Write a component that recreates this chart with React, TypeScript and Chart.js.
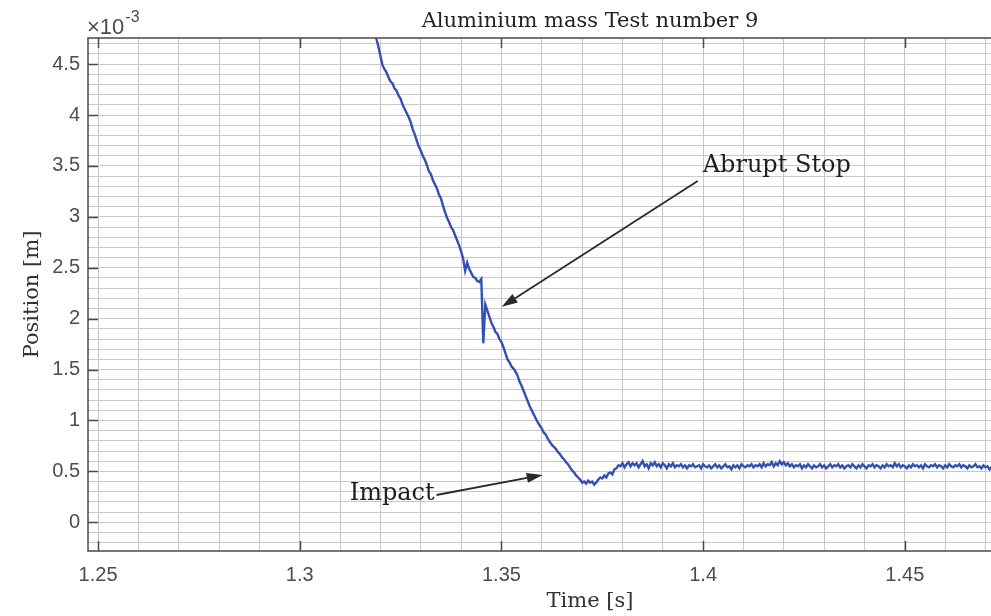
import React, { useEffect, useRef } from "react";
import { Chart, registerables } from "chart.js";

Chart.register(...registerables);

// ---- Texts ----
const chartTitle = "Aluminium mass Test number 9";
const xAxisTitle = "Time [s]";
const yAxisTitle = "Position [m]";
const yMultiplierBase = "\u00d710";
const yMultiplierExponent = "-3";

// ---- Axes ----
const xMajorTicks = [1.25, 1.3, 1.35, 1.4, 1.45];
const yMajorTicks = [0, 0.5, 1, 1.5, 2, 2.5, 3, 3.5, 4, 4.5];
const xLimits = [1.2475, 1.4964];
const yLimits = [-0.282, 4.757];
const xMinorStep = 0.01;
const yMinorStep = 0.1;

// ---- Data (position in units of 1e-3 m), sampled every samplePeriod seconds ----
const sampleStart = 1.318;
const samplePeriod = 0.0005;

const fallValues = [
  4.86, 4.8, 4.75, 4.67, 4.58, 4.49, 4.45, 4.42, 4.37, 4.33,
  4.31, 4.26, 4.24, 4.19, 4.16, 4.1, 4.06, 4.02, 3.98, 3.93,
  3.86, 3.81, 3.75, 3.69, 3.65, 3.6, 3.56, 3.51, 3.45, 3.42,
  3.36, 3.32, 3.28, 3.22, 3.18, 3.11, 3.05, 2.99, 2.95, 2.9,
  2.87, 2.82, 2.77, 2.72, 2.66, 2.59, 2.47, 2.55, 2.49, 2.45,
  2.41, 2.4, 2.37, 2.36, 2.39, 1.76, 2.14, 2.08, 2.02, 1.96,
  1.92, 1.87, 1.85, 1.8, 1.77, 1.72, 1.66, 1.6, 1.57, 1.53,
  1.51, 1.48, 1.44, 1.38, 1.34, 1.29, 1.24, 1.19, 1.14, 1.1,
  1.06, 1.02, 0.98, 0.95, 0.92, 0.88, 0.86, 0.82, 0.79, 0.76,
  0.74, 0.72, 0.69, 0.67, 0.64, 0.62, 0.59, 0.57, 0.54, 0.51,
  0.49, 0.46, 0.44, 0.42, 0.39, 0.4, 0.38, 0.41, 0.39, 0.4,
  0.37, 0.39, 0.42, 0.44, 0.43, 0.46, 0.44, 0.48, 0.49, 0.47,
  0.52,
];

const settleValues = [
  0.53, 0.56, 0.55, 0.58, 0.54, 0.57, 0.59, 0.55, 0.58, 0.56,
  0.58, 0.54, 0.57, 0.6, 0.55, 0.57, 0.53, 0.58, 0.56, 0.59,
  0.55, 0.57, 0.54, 0.58, 0.56, 0.53, 0.57, 0.55, 0.58, 0.54,
  0.56, 0.55, 0.57, 0.54, 0.56, 0.53, 0.56, 0.55, 0.57, 0.54,
  0.55, 0.56, 0.53, 0.57, 0.55, 0.54, 0.56, 0.53, 0.55, 0.57,
  0.54, 0.56, 0.53, 0.55, 0.57, 0.54, 0.55, 0.52, 0.56, 0.54,
  0.56, 0.53, 0.57, 0.55, 0.54, 0.56, 0.55, 0.57, 0.54, 0.56,
  0.55, 0.57, 0.54, 0.58, 0.55, 0.57, 0.56, 0.59, 0.55, 0.58,
  0.56, 0.6, 0.57, 0.59, 0.56, 0.58, 0.55, 0.57, 0.54, 0.56,
  0.55, 0.57, 0.53, 0.56, 0.54, 0.57, 0.55, 0.53, 0.56, 0.54,
  0.55, 0.57, 0.54, 0.56, 0.53, 0.55, 0.57, 0.54, 0.56, 0.55,
  0.57, 0.54, 0.56, 0.53, 0.55, 0.56, 0.54, 0.57, 0.55, 0.53,
  0.56, 0.54, 0.57, 0.55, 0.53, 0.56, 0.55, 0.57, 0.54, 0.56,
  0.55, 0.53, 0.56, 0.54, 0.57, 0.55, 0.56, 0.54, 0.58, 0.55,
  0.57, 0.54, 0.56, 0.55, 0.53, 0.56, 0.54, 0.57, 0.55, 0.56,
  0.54, 0.56, 0.53, 0.57, 0.55, 0.54, 0.56, 0.55, 0.57, 0.54,
  0.56, 0.55, 0.53, 0.56, 0.54, 0.57, 0.55, 0.54, 0.56, 0.55,
  0.57, 0.54, 0.56, 0.55, 0.53, 0.56, 0.54, 0.55, 0.57, 0.54,
  0.55, 0.53, 0.56, 0.54, 0.55, 0.52, 0.54, 0.56, 0.53, 0.55,
  0.54, 0.56, 0.55, 0.53, 0.57, 0.55, 0.54, 0.56, 0.55, 0.57,
  0.54, 0.56, 0.55, 0.53, 0.56, 0.54, 0.57, 0.55, 0.54, 0.56,
  0.55, 0.57, 0.54, 0.56, 0.53, 0.55, 0.56, 0.54, 0.57, 0.55,
  0.54, 0.56, 0.55, 0.57, 0.54, 0.56, 0.53, 0.55, 0.56, 0.54,
  0.56, 0.55, 0.57, 0.54, 0.55, 0.56, 0.54, 0.55,
];

// ---- Annotations (data coordinates) ----
const annotationLabels = ["Abrupt Stop", "Impact"];
const annotationAligns: CanvasTextAlign[] = ["left", "right"];
const annotationTextX = [1.3999, 1.33345];
const annotationTextY = [3.441, 0.219];
const arrowTailX = [1.39865, 1.3339];
const arrowTailY = [3.353, 0.268];
const arrowHeadX = [1.35006, 1.36023];
const arrowHeadY = [2.116, 0.465];

const serif = '"DejaVu Serif", serif';
const sans = '"Liberation Sans", Arial, sans-serif';

function isMajor(list: number[], v: number) {
  return list.some((m) => Math.abs(m - v) < 1e-7);
}

function gridTicks(limits: number[], step: number) {
  const out: { value: number }[] = [];
  const start = Math.ceil(limits[0] / step - 1e-9);
  const end = Math.floor(limits[1] / step + 1e-9);
  for (let k = start; k <= end; k++) out.push({ value: Number((k * step).toFixed(5)) });
  return out;
}

const decorPlugin = {
  id: "matlabDecor",
  afterDatasetsDraw(chart: any) {
    const { ctx, chartArea, scales } = chart;
    const { left, right, top, bottom } = chartArea;
    const xs = scales.x;
    const ys = scales.y;
    ctx.save();

    // box
    ctx.strokeStyle = "#4a4a4a";
    ctx.lineWidth = 1.5;
    ctx.strokeRect(left, top, right - left, bottom - top);

    // inward tick marks
    ctx.beginPath();
    xMajorTicks.forEach((v) => {
      const px = Math.round(xs.getPixelForValue(v)) + 0.5;
      ctx.moveTo(px, bottom);
      ctx.lineTo(px, bottom - 10);
      ctx.moveTo(px, top);
      ctx.lineTo(px, top + 10);
    });
    yMajorTicks.forEach((v) => {
      const py = Math.round(ys.getPixelForValue(v)) + 0.5;
      ctx.moveTo(left, py);
      ctx.lineTo(left + 10, py);
      ctx.moveTo(right, py);
      ctx.lineTo(right - 10, py);
    });
    ctx.stroke();

    // title
    ctx.fillStyle = "#222";
    ctx.font = `21px ${serif}`;
    ctx.textAlign = "center";
    ctx.textBaseline = "alphabetic";
    ctx.fillText(chartTitle, (left + right) / 2, 27);

    // x title
    ctx.fillStyle = "#333";
    ctx.fillText(xAxisTitle, (left + right) / 2, 607);

    // y title
    ctx.save();
    ctx.translate(38, (top + bottom) / 2);
    ctx.rotate(-Math.PI / 2);
    ctx.fillText(yAxisTitle, 0, 0);
    ctx.restore();

    // multiplier
    ctx.fillStyle = "#4d4d4d";
    ctx.textAlign = "left";
    ctx.font = `22px ${sans}`;
    ctx.fillText(yMultiplierBase, left - 1, 34);
    const w = ctx.measureText(yMultiplierBase).width;
    ctx.font = `16px ${sans}`;
    ctx.fillText(yMultiplierExponent, left + w, 22);

    // annotations
    for (let i = 0; i < annotationLabels.length; i++) {
      const tx = xs.getPixelForValue(arrowTailX[i]);
      const ty = ys.getPixelForValue(arrowTailY[i]);
      const hx = xs.getPixelForValue(arrowHeadX[i]);
      const hy = ys.getPixelForValue(arrowHeadY[i]);
      const ang = Math.atan2(hy - ty, hx - tx);
      const headLen = 16;
      const headHalf = 5;
      const bx = hx - headLen * Math.cos(ang);
      const by = hy - headLen * Math.sin(ang);
      ctx.strokeStyle = "#2a2a2a";
      ctx.fillStyle = "#2a2a2a";
      ctx.lineWidth = 1.8;
      ctx.beginPath();
      ctx.moveTo(tx, ty);
      ctx.lineTo(bx, by);
      ctx.stroke();
      ctx.beginPath();
      ctx.moveTo(hx, hy);
      ctx.lineTo(bx + headHalf * Math.sin(ang), by - headHalf * Math.cos(ang));
      ctx.lineTo(bx - headHalf * Math.sin(ang), by + headHalf * Math.cos(ang));
      ctx.closePath();
      ctx.fill();

      ctx.fillStyle = "#1e1e1e";
      ctx.font = `24px ${serif}`;
      ctx.textAlign = annotationAligns[i];
      ctx.textBaseline = "alphabetic";
      ctx.fillText(
        annotationLabels[i],
        xs.getPixelForValue(annotationTextX[i]),
        ys.getPixelForValue(annotationTextY[i])
      );
    }
    ctx.restore();
  },
};

export default function App() {
  const canvasRef = useRef<HTMLCanvasElement | null>(null);

  useEffect(() => {
    const canvas = canvasRef.current;
    if (!canvas) return;
    const fallPoints = fallValues.map((y, i) => ({
      x: sampleStart + i * samplePeriod,
      y,
    }));
    const settlePoints = settleValues.map((y, i) => ({
      x: sampleStart + (fallValues.length + i) * samplePeriod,
      y,
    }));
    const points = fallPoints.concat(settlePoints);

    const chart = new Chart(canvas, {
      type: "line",
      data: {
        datasets: [
          {
            label: "Position",
            data: points,
            borderColor: "#3450b4",
            borderWidth: 2.4,
            pointRadius: 0,
            tension: 0,
            fill: false,
          },
        ],
      },
      options: {
        animation: false,
        responsive: false,
        devicePixelRatio: 1,
        layout: { padding: { top: 38, right: 88, left: 0, bottom: 0 } },
        plugins: {
          legend: { display: false },
          tooltip: { enabled: false },
          title: { display: false },
        },
        events: [],
        scales: {
          x: {
            type: "linear",
            min: xLimits[0],
            max: xLimits[1],
            afterBuildTicks: (scale: any) => {
              scale.ticks = gridTicks(xLimits, xMinorStep);
            },
            afterFit: (scale: any) => {
              scale.height = 65;
            },
            grid: {
              color: "#c8c8c8",
              lineWidth: 1,
              drawTicks: false,
              tickLength: 0,
            },
            border: { display: false },
            ticks: {
              autoSkip: false,
              maxRotation: 0,
              minRotation: 0,
              padding: 12,
              color: "#4d4d4d",
              font: { family: sans, size: 20 },
              callback: (v: any) => (isMajor(xMajorTicks, Number(v)) ? String(Number(v)) : ""),
            },
          },
          y: {
            type: "linear",
            min: yLimits[0],
            max: yLimits[1],
            afterBuildTicks: (scale: any) => {
              scale.ticks = gridTicks(yLimits, yMinorStep);
            },
            afterFit: (scale: any) => {
              scale.width = 88;
            },
            grid: {
              color: "#c8c8c8",
              lineWidth: 1,
              drawTicks: false,
              tickLength: 0,
            },
            border: { display: false },
            ticks: {
              autoSkip: false,
              padding: 8,
              color: "#4d4d4d",
              font: { family: sans, size: 20 },
              callback: (v: any) => (isMajor(yMajorTicks, Number(v)) ? String(Number(v)) : ""),
            },
          },
        },
      },
      plugins: [decorPlugin],
    });
    return () => chart.destroy();
  }, []);

  return (
    <div
      style={{
        position: "absolute",
        left: 0,
        top: 0,
        width: 991,
        height: 616,
        overflow: "hidden",
        background: "#fff",
      }}
    >
      <div style={{ width: 1180, height: 616 }}>
        <canvas ref={canvasRef} width={1180} height={616} style={{ display: "block" }} />
      </div>
    </div>
  );
}
